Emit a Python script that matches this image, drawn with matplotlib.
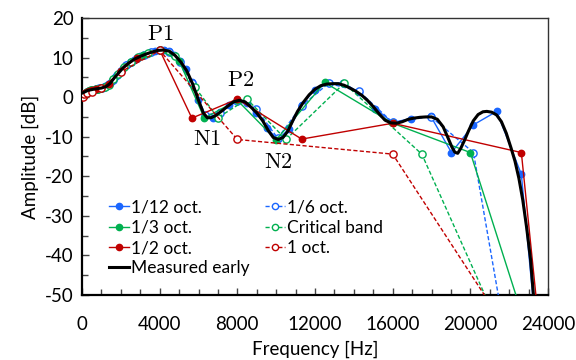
import matplotlib
matplotlib.use("Agg")
import matplotlib.pyplot as plt

plt.rcParams['font.family'] = ['Lato', 'DejaVu Sans']
plt.rcParams['axes.unicode_minus'] = False
plt.rcParams['mathtext.fontset'] = 'cm'

# ---- data (frequency in Hz, amplitude in dB) ----
f_meas = [0, 300, 600, 1000, 1250, 1450, 1650, 1900, 2150, 2400, 2700, 3000, 3300, 3600,
          3900, 4200, 4500, 4800, 5100, 5400, 5700, 6000, 6250, 6450, 6650, 6900, 7200, 7500,
          7800, 8100, 8400, 8700, 9000, 9300, 9600, 9850, 10100, 10350, 10600, 10850, 11100,
          11400, 11700, 12000, 12300, 12600, 12900, 13200, 13500, 13800, 14100, 14400, 14700,
          15000, 15300, 15600, 15900, 16200, 16500, 16800, 17100, 17400, 17700, 18000, 18300,
          18600, 18850, 19050, 19200, 19350, 19500, 19700, 19900, 20150, 20400, 20650, 20850,
          21100, 21350, 21600, 21850, 22100, 22300, 22500, 22700, 22900, 23100, 23300]
a_meas = [1.0, 1.7, 2.0, 2.3, 2.7, 3.5, 4.8, 6.2, 7.6, 8.6, 9.6, 10.3, 10.9, 11.4,
          11.8, 11.9, 11.6, 10.5, 8.8, 6.6, 3.3, -0.8, -4.0, -5.2, -5.2, -4.6, -3.5, -2.3,
          -1.2, -0.8, -1.2, -2.5, -4.0, -5.9, -8.5, -10.2, -10.7, -10.2, -8.6, -6.0, -3.6,
          -1.3, 0.6, 2.0, 2.9, 3.3, 3.4, 3.4, 3.0, 2.3, 1.5, 0.5, -0.8,
          -2.4, -4.2, -5.8, -6.5, -6.6, -6.2, -5.6, -5.3, -5.1, -5.0, -5.0, -5.6,
          -7.5, -10.3, -12.6, -13.9, -14.2, -13.0, -10.9, -8.6, -6.0, -4.4, -3.7, -3.6,
          -3.8, -4.5, -6.2, -9.1, -12.9, -16.2, -20.5, -26.0, -33.0, -41.0, -53.0]

f_12 = [63, 125, 250, 354, 500, 595, 707, 841, 1000, 1059, 1122, 1189, 1260, 1335, 1414,
        1498, 1587, 1682, 1782, 1888, 2000, 2119, 2245, 2378, 2520, 2670, 2828, 2997, 3175,
        3364, 3564, 3776, 4000, 4238, 4490, 4757, 5040, 5339, 5657, 5993, 6350, 6727, 7127,
        7551, 8000, 8476, 8980, 9514, 10079, 10679, 11314, 11986, 12699, 13454, 14254,
        15102, 16000, 16951, 17959, 19027, 20159, 21357, 22627, 23973]
a_12 = [0.3, 0.9, 1.3, 1.6, 1.8, 1.9, 2.0, 2.1, 2.3, 2.4, 2.5, 2.6, 2.8, 3.0, 3.3,
        3.8, 4.4, 5.0, 5.6, 6.1, 6.7, 7.4, 8.0, 8.5, 9.0, 9.5, 9.9, 10.3, 10.7,
        11.0, 11.4, 11.7, 11.9, 11.9, 11.6, 10.7, 9.1, 7.0, 3.8, -0.6, -4.8, -5.2, -3.8,
        -2.1, -0.9, -1.5, -3.9, -7.8, -10.7, -8.0, -1.9, 1.9, 3.5, 3.6, 1.2,
        -2.9, -6.4, -5.4, -4.8, -14.0, -7.0, -3.6, -19.5, -90.0]

f_6 = [63, 125, 250, 354, 500, 707, 891, 1000, 1122, 1260, 1414, 1587, 1782, 2000, 2245,
       2520, 2828, 3175, 3564, 4000, 4490, 5040, 5657, 6350, 7127, 8000, 8980, 10079,
       11314, 12699, 14254, 16000, 17959, 20159, 22627]
a_6 = [0.3, 0.9, 1.3, 1.6, 1.8, 2.0, 2.2, 2.3, 2.5, 2.8, 3.3, 4.4, 5.6, 6.7, 8.0,
       9.0, 9.9, 10.7, 11.4, 11.9, 11.5, 9.0, 3.5, -4.5, -3.9, -0.9, -3.0, -10.4,
       -2.2, 3.5, 1.5, -6.4, -4.9, -14.0, -83.5]

f_3 = [63, 80, 100, 125, 160, 200, 250, 315, 400, 500, 630, 800, 1000, 1250, 1600, 2000,
       2500, 3150, 4000, 5000, 6300, 8000, 10000, 12500, 16000, 20000, 25000]
a_3 = [0.2, 0.4, 0.6, 0.8, 1.0, 1.1, 1.3, 1.5, 1.7, 1.8, 1.9, 2.1, 2.3, 2.8, 4.5, 6.7,
       9.0, 10.6, 11.9, 9.2, -5.3, -0.8, -10.8, 3.7, -6.6, -14.0, -90.7]

f_cb = [50, 150, 250, 350, 450, 570, 700, 840, 1000, 1170, 1370, 1600, 1850, 2150, 2500,
        2900, 3400, 4000, 4800, 5800, 7000, 8500, 10500, 13500, 17500, 22000]
a_cb = [0.2, 0.9, 1.3, 1.5, 1.7, 1.9, 2.0, 2.1, 2.3, 2.6, 3.1, 4.5, 5.9, 7.6, 9.0,
        10.1, 11.1, 11.9, 10.4, 2.6, -5.2, -0.5, -10.7, 3.5, -14.4, -63.7]

f_2 = [63, 88, 125, 177, 250, 354, 500, 707, 1000, 1414, 2000, 2828, 4000, 5657, 8000,
       11314, 16000, 22627, 24000]
a_2 = [0.2, 0.5, 0.8, 1.0, 1.3, 1.6, 1.8, 2.0, 2.3, 3.3, 6.7, 10.0, 11.9, -5.3, -0.5,
       -10.6, -6.6, -14.0, -80.0]

f_1 = [63, 125, 250, 500, 1000, 2000, 4000, 8000, 16000, 32000]
a_1 = [0.0, 0.8, 1.1, 1.4, 2.2, 6.4, 11.8, -10.7, -14.4, -135.0]

x_ticks = [0, 4000, 8000, 12000, 16000, 20000, 24000]
y_ticks = [20, 10, 0, -10, -20, -30, -40, -50]

annotations = [("P1", 4016, 15.9), ("P2", 8160, 4.3), ("N1", 6437, -10.6), ("N2", 10134, -16.4)]

# ---- styles ----
blue = '#1a66ff'
green = '#00b050'
red = '#c00000'
dash = (0, (3.0, 1.6))

fig = plt.figure(figsize=(5.76, 3.6), dpi=100)
ax = fig.add_axes([0.1424, 0.1806, 0.8090, 0.7694])

ms_f = 4.6
ms_o = 5.2
lw = 1.0
l12, = ax.plot(f_12, a_12, '-', color=blue, lw=lw, marker='o', ms=ms_f, label='1/12 oct.', zorder=3)
l6, = ax.plot(f_6, a_6, color=blue, ls=dash, lw=lw, marker='o', ms=ms_o, mfc='white',
              mec=blue, mew=1.0, label='1/6 oct.', zorder=3)
l3, = ax.plot(f_3, a_3, '-', color=green, lw=lw, marker='o', ms=ms_f, label='1/3 oct.', zorder=3)
lcb, = ax.plot(f_cb, a_cb, color=green, ls=dash, lw=lw, marker='o', ms=ms_o, mfc='white',
               mec=green, mew=1.0, label='Critical band', zorder=3)
l2, = ax.plot(f_2, a_2, '-', color=red, lw=lw, marker='o', ms=ms_f, label='1/2 oct.', zorder=4)
l1, = ax.plot(f_1, a_1, color=red, ls=dash, lw=lw, marker='o', ms=ms_o, mfc='white',
              mec=red, mew=1.0, label='1 oct.', zorder=4)
lm, = ax.plot(f_meas, a_meas, '-', color='black', lw=2.2, label='Measured early', zorder=5)

ax.set_xlim(0, 24000)
ax.set_ylim(-50, 20)
ax.set_xticks(x_ticks)
ax.set_yticks(y_ticks)
ax.set_xticks(range(0, 24001, 1000), minor=True)
ax.set_yticks(range(-50, 21, 5), minor=True)
ax.tick_params(axis='both', which='both', direction='in', top=False, right=False,
               labelsize=13.5, width=1.0, color='#444444')
ax.tick_params(axis='both', which='major', length=5)
ax.tick_params(axis='both', which='minor', length=4)
ax.tick_params(axis='x', pad=15)
ax.tick_params(axis='y', pad=6)

for s in ['left', 'bottom']:
    ax.spines[s].set_linewidth(1.6)
    ax.spines[s].set_color('black')
for s in ['top', 'right']:
    ax.spines[s].set_linewidth(1.0)
    ax.spines[s].set_color('#333333')

ax.set_xlabel('Frequency [Hz]', fontsize=13.5, labelpad=6)
ax.set_ylabel('Amplitude [dB]', fontsize=13.5, labelpad=4)

for txt, fx, fy in annotations:
    ax.text(fx, fy, r'$\mathrm{' + txt + '}$', fontsize=16, ha='center', va='center', zorder=6)

handles = [l12, l3, l2, lm, l6, lcb, l1]
leg = ax.legend(handles=handles, ncol=2, loc='lower left', bbox_to_anchor=(0.044, 0.042),
                frameon=False, fontsize=12.5, handlelength=1.1, handletextpad=0.15,
                columnspacing=0.9, labelspacing=0.25, borderaxespad=0.0)
for h in leg.legend_handles:
    h.set_markersize(4.5)

fig.savefig('out.png', dpi=100)
